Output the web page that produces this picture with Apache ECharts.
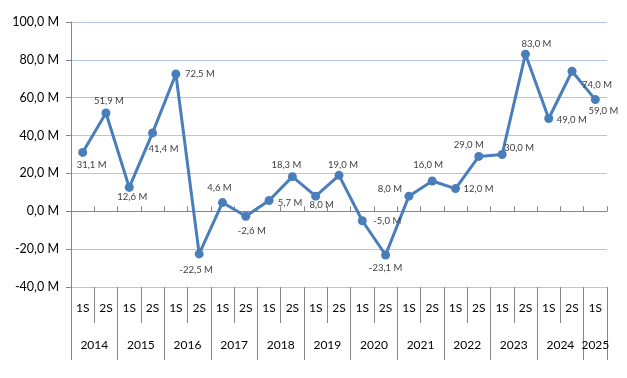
<!DOCTYPE html>
<html>
<head>
<meta charset="utf-8">
<script src="https://cdn.jsdelivr.net/npm/echarts@6/dist/echarts.min.js"></script>
<style>
    html, body { margin: 0; padding: 0; background: #fff; }
    #chart { width: 627px; height: 378px; }
</style>
</head>
<body>
<div id="chart"></div>
<script>
// semesters and values (millions)
var halves = ['1S', '2S', '1S', '2S', '1S', '2S', '1S', '2S', '1S', '2S', '1S', '2S',
    '1S', '2S', '1S', '2S', '1S', '2S', '1S', '2S', '1S', '2S', '1S'];
var years = ['2014', '2015', '2016', '2017', '2018', '2019', '2020', '2021', '2022', '2023', '2024', '2025'];
var values = [31.1, 51.9, 12.6, 41.4, 72.5, -22.5, 4.6, -2.6, 5.7, 18.3, 8.0, 19.0,
    -5.0, -23.1, 8.0, 16.0, 12.0, 29.0, 30.0, 83.0, 49.0, 74.0, 59.0];
var yTicks = [-40, -20, 0, 20, 40, 60, 80, 100];

// where each data label sits, relative to its point (px)
var labelOffsets = [[9, 13], [3, -12], [3, 10], [11, 16], [24, 0], [-3, 16], [-3, -15], [6, 15],
    [21, 2], [-6, -12], [6, 9], [4, -10], [25, 0], [0, 13], [-19, -7], [-4, -16],
    [23, 0], [-10, -11], [17, -7], [11, -10], [23, 1], [25, 14], [8, 11]];

var FONT = 'Lato';
var fmt = function (v) {
    return v.toFixed(1).replace('.', ',') + ' M';
};

// year row: half-slot grid (2 per semester), year name at the centre of its span
var yearSlots = [];
for (var i = 0; i <= halves.length * 2; i++) yearSlots.push('');
years.forEach(function (y, k) {
    var first = k * 4;
    var span = Math.min(2, halves.length - k * 2) * 2;
    yearSlots[first + span / 2] = y;
});
var yearBounds = {};
years.forEach(function (y, k) { yearBounds[k * 4] = true; });
yearBounds[halves.length * 2] = true;

var myChart = echarts.init(document.getElementById('chart'));

var option = {
    backgroundColor: '#fff',
    animation: false,
    grid: {
        left: 71,
        right: 20,
        top: 22,
        bottom: 91
    },
    xAxis: [{
        type: 'category',
        position: 'bottom',
        data: halves,
        axisLine: { onZero: true, lineStyle: { color: '#868686', width: 1 } },
        axisTick: { show: true, inside: true, length: 5, lineStyle: { color: '#868686' } },
        axisLabel: { show: false },
        splitLine: { show: false }
    }, {
        type: 'category',
        position: 'bottom',
        data: halves,
        axisLine: { show: false, onZero: false },
        axisTick: { show: true, length: 36, lineStyle: { color: '#868686' } },
        axisLabel: { margin: 15, fontSize: 12, color: '#000', fontFamily: FONT, interval: 0 },
        splitLine: { show: false }
    }, {
        type: 'category',
        position: 'bottom',
        boundaryGap: false,
        data: yearSlots,
        axisLine: { show: false, onZero: false },
        axisTick: {
            show: true,
            length: 73,
            lineStyle: { color: '#868686' },
            interval: function (idx) { return !!yearBounds[idx]; }
        },
        axisLabel: {
            margin: 52,
            fontSize: 12,
            color: '#000',
            fontFamily: FONT,
            interval: function (idx, val) { return val !== ''; }
        },
        splitLine: { show: false }
    }],
    yAxis: {
        type: 'value',
        min: yTicks[0],
        max: yTicks[yTicks.length - 1],
        interval: 20,
        axisLine: { show: true, onZero: false, lineStyle: { color: '#868686' } },
        axisTick: { show: true, length: 5, lineStyle: { color: '#868686' } },
        axisLabel: {
            margin: 12,
            fontSize: 12.5,
            color: '#000',
            fontFamily: FONT,
            formatter: fmt
        },
        splitLine: { lineStyle: { color: '#b3c6e6', width: 1 } }
    },
    series: [{
        type: 'line',
        xAxisIndex: 0,
        symbol: 'circle',
        symbolSize: 9,
        lineStyle: { width: 3, color: '#4a7ebb' },
        itemStyle: { color: '#4a7ebb' },
        label: {
            show: true,
            position: 'inside',
            fontSize: 9.5,
            fontFamily: FONT,
            color: '#404040',
            formatter: function (p) { return fmt(p.value); }
        },
        data: values.map(function (v, i) {
            return { value: v, label: { offset: labelOffsets[i] } };
        }),
        z: 5
    }]
};

myChart.setOption(option);
</script>
</body>
</html>
